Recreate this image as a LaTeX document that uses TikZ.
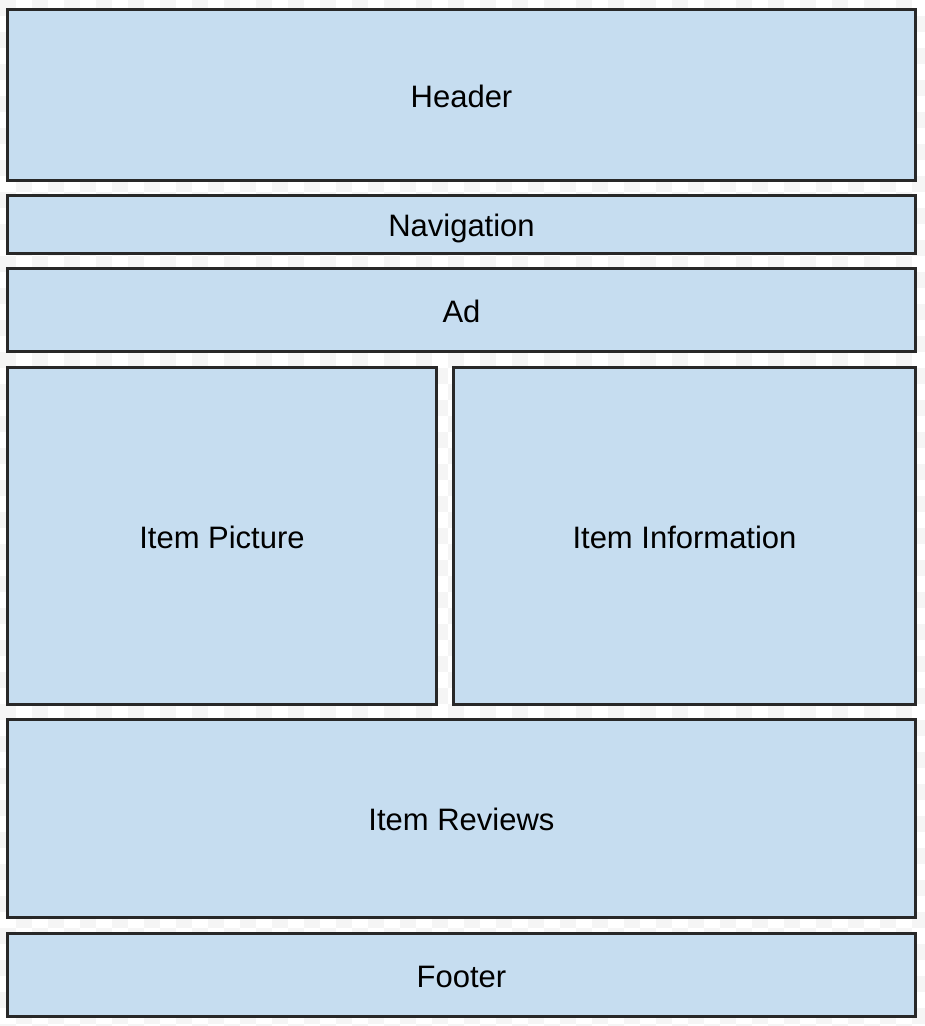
\documentclass[tikz,border=0pt]{standalone}
\usepackage{fontspec}
\setmainfont{Liberation Sans}
\usepackage{tikz}

\definecolor{boxblue}{RGB}{198,221,240}
\definecolor{boxline}{RGB}{40,40,40}
\definecolor{checkgray}{RGB}{245,245,245}

\tikzset{
  block/.style={draw=boxline, line width=2.2pt, fill=boxblue, inner sep=0pt,
    text height=24pt, text depth=0pt,
    font=\fontsize{31}{36}\selectfont},
  checker/.style={fill=checkgray}
}

\begin{document}
\begin{tikzpicture}[x=1pt,y=-1pt]
\useasboundingbox (0,0) rectangle (925,1026);
% transparency squares
\begin{scope}
\clip (0,0) rectangle (925,1026);
\fill[white] (0,0) rectangle (925,1026);
\foreach \r in {0,...,64}{
  \pgfmathtruncatemacro\s{mod(\r,2)}
  \pgfmathtruncatemacro\t{\s+2}
  \foreach \c in {\s,\t,...,57}
    \fill[checker] (16*\c,16*\r) rectangle ++(16,16);
}
\end{scope}
% page blocks
\node[block, minimum width=908pt, minimum height=171pt] (header) at (461.5,95) {Header};
\node[block, minimum width=908pt, minimum height=58pt] (nav) at (461.5,224.5) {Navigation};
\node[block, minimum width=908pt, minimum height=83pt] (ad) at (461.5,310) {Ad};
\node[block, minimum width=429pt, minimum height=337pt] (picture) at (222,536) {Item Picture};
\node[block, minimum width=462pt, minimum height=337pt] (info) at (684.5,536) {Item Information};
\node[block, minimum width=908pt, minimum height=198pt] (reviews) at (461.5,818.5) {Item Reviews};
\node[block, minimum width=908pt, minimum height=83pt] (footer) at (461.5,975) {Footer};
\end{tikzpicture}
\end{document}
